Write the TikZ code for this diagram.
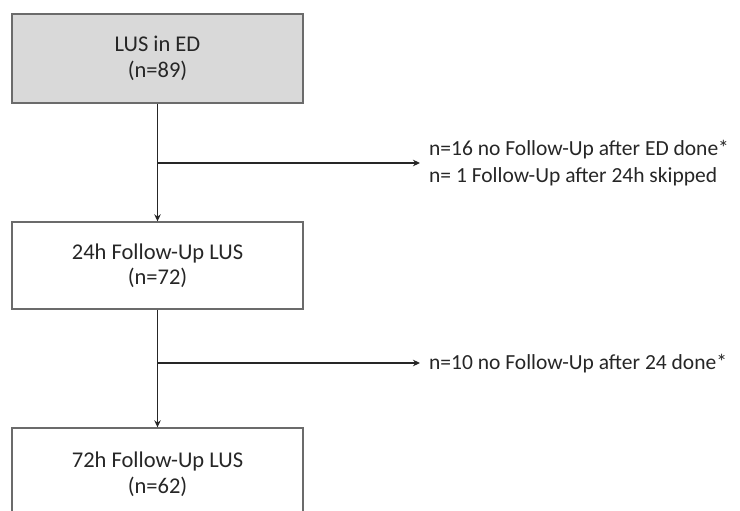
\documentclass[tikz,border=0pt]{standalone}
\usepackage{fontspec}
\setmainfont{Carlito}
\usetikzlibrary{arrows.meta}
\definecolor{boxgray}{HTML}{D9D9D9}
\definecolor{edgegray}{HTML}{6B6B6B}
\definecolor{linegray}{HTML}{262626}
\begin{document}
\begin{tikzpicture}[x=1pt,y=-1pt,
  stagebox/.style={draw=edgegray,line width=1.4pt,minimum width=291pt,align=center,
    font=\fontsize{22.5}{25.5}\selectfont,text=black!85,inner sep=0pt},
  note/.style={anchor=west,align=left,font=\fontsize{21.5}{27}\selectfont,text=black!85,inner xsep=9pt,inner ysep=0pt},
  conn/.style={draw=linegray,line width=1.5pt},
  arr/.style={conn,-{Stealth[length=7pt,width=6.5pt]}}]
\useasboundingbox (0,0) rectangle (740,511);
\clip (0,0) rectangle (740,511);
\node[stagebox,fill=boxgray,minimum height=89pt] (b1) at (157.5,58.5) {LUS in ED\\(n=89)};
\node[stagebox,minimum height=87pt] (b2) at (157.5,265.5) {24h Follow-Up LUS\\(n=72)};
\node[stagebox,minimum height=92pt] (b3) at (157.5,474) {72h Follow-Up LUS\\(n=62)};
\node[note] (t1) at (420,163.5) {n=16 no Follow-Up after ED done*\\n= 1 Follow-Up after 24h skipped};
\node[note] (t2) at (420,364) {n=10 no Follow-Up after 24 done*};
\coordinate (j1) at (157.5,163);
\coordinate (j2) at (157.5,363);
\draw[arr] (b1.south) -- (b2.north);
\draw[arr] (b2.south) -- (b3.north);
\draw[arr] (j1) -- (j1 -| t1.west);
\draw[arr] (j2) -- (j2 -| t2.west);
\end{tikzpicture}
\end{document}
